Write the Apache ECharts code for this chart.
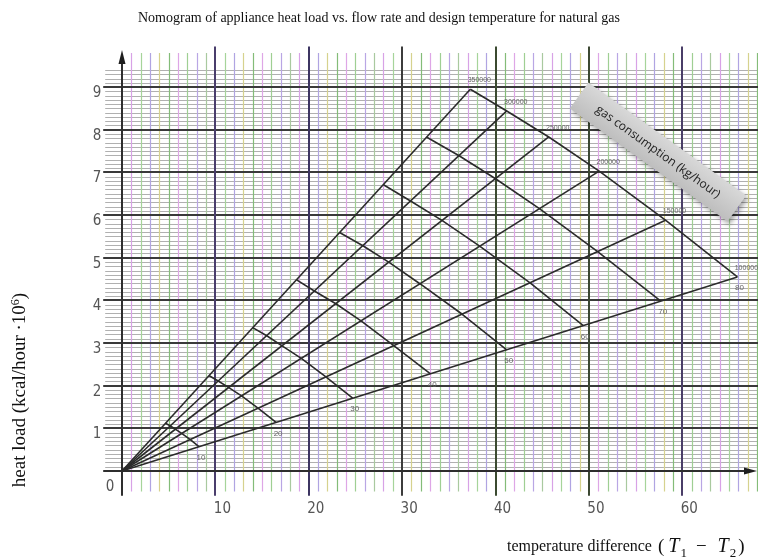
<!DOCTYPE html>
<html>
<head>
<meta charset="utf-8">
<script src="https://cdn.jsdelivr.net/npm/echarts@6/dist/echarts.min.js"></script>
<style>
  html, body { margin: 0; padding: 0; background: #ffffff; }
  #chart { width: 758px; height: 559px; }
</style>
</head>
<body>
<div id="chart"></div>
<script>
// Axis tick values: temperature difference and heat load (10^6 kcal/hour)
const xTickValues = [10, 20, 30, 40, 50, 60];
const yTickValues = [1, 2, 3, 4, 5, 6, 7, 8, 9];

// Gas consumption rays (kg/hour) and their end points on the outer curve
const flowRates = ['350000', '300000', '250000', '200000', '150000', '100000'];
const outerX = [37.3, 41.2, 45.7, 51.1, 58.2, 65.9];
const outerY = [8.95, 8.44, 7.83, 7.03, 5.88, 4.55];

// Cross curves through the six rays, steepest ray first
const crossLevels = [10, 20, 30, 40, 50, 60, 70, 80];
const crossX = [
  [4.66, 5.15, 5.71, 6.39, 7.28, 8.24],
  [9.3, 10.3, 11.4, 12.8, 14.6, 16.5],
  [14.0, 15.5, 17.1, 19.2, 21.8, 24.7],
  [18.7, 20.6, 22.9, 25.6, 29.1, 33.0],
  [23.3, 25.8, 28.6, 31.9, 36.4, 41.2],
  [28.0, 30.9, 34.3, 38.3, 43.7, 49.4],
  [32.6, 36.1, 40.0, 44.7, 50.9, 57.7],
  [37.3, 41.2, 45.7, 51.1, 58.2, 65.9]
];
const crossY = [
  [1.12, 1.06, 0.98, 0.88, 0.74, 0.57],
  [2.24, 2.11, 1.96, 1.76, 1.47, 1.14],
  [3.36, 3.17, 2.94, 2.64, 2.21, 1.71],
  [4.48, 4.22, 3.92, 3.52, 2.94, 2.28],
  [5.59, 5.28, 4.89, 4.39, 3.68, 2.84],
  [6.71, 6.33, 5.87, 5.27, 4.41, 3.41],
  [7.83, 7.39, 6.85, 6.15, 5.15, 3.98],
  [8.95, 8.44, 7.83, 7.03, 5.88, 4.55]
];

// ---- graph-paper settings ----
const X_MAX = 68, Y_MAX = 9.4;
const PAPER_LEFT = -1.8;          // horizontal rules run a little left of the axis
const V_MINOR = [-0.48, 9.8];     // colored verticals
const V_MAJOR = [-0.58, 9.95];    // dark verticals
const minorColors = ['#d8a2e6', '#a6d49a', '#b0a4e2', '#d6d28e', '#84bc78',
                     '#dea6e6', '#9fcf93', '#b9a6e4', '#a9c99f'];
const majorColors = { 10: '#4a3e6c', 20: '#3d3562', 30: '#3c3c3c', 40: '#3b4a30', 50: '#3c4832', 60: '#4a3e68' };
const INK = '#2b2b2b';

const minorH = [];
for (let i = 1; i <= 94; i++) if (i % 10 !== 0) minorH.push([i / 10]);
const minorV = [];
for (let i = 1; i <= X_MAX; i++) if (i % 10 !== 0) minorV.push([i]);

const crisp = v => Math.round(v) + 0.5;

const chart = echarts.init(document.getElementById('chart'), null, { renderer: 'canvas' });

const series = [];

// minor horizontal rules
series.push({
  type: 'custom', silent: true, clip: false, z: 1,
  data: minorH,
  renderItem(params, api) {
    const y = api.value(0);
    const a = api.coord([PAPER_LEFT, y]), b = api.coord([X_MAX, y]);
    return { type: 'line', shape: { x1: a[0], y1: crisp(a[1]), x2: b[0] + 2, y2: crisp(a[1]) },
             style: { stroke: '#b0b0b0', lineWidth: 1 } };
  }
});

// colored minor verticals
series.push({
  type: 'custom', silent: true, clip: false, z: 2,
  data: minorV,
  renderItem(params, api) {
    const x = api.value(0);
    const a = api.coord([x, V_MINOR[0]]), b = api.coord([x, V_MINOR[1]]);
    return { type: 'line', shape: { x1: crisp(a[0]), y1: a[1], x2: crisp(a[0]), y2: b[1] },
             style: { stroke: minorColors[(x - 1) % minorColors.length], lineWidth: 1.2 } };
  }
});

// major horizontal rules
series.push({
  type: 'custom', silent: true, clip: false, z: 3,
  data: yTickValues.map(v => [v]),
  renderItem(params, api) {
    const y = api.value(0);
    const a = api.coord([PAPER_LEFT, y]), b = api.coord([X_MAX, y]);
    return { type: 'line', shape: { x1: a[0] - 2, y1: Math.round(a[1]), x2: b[0] + 2, y2: Math.round(a[1]) },
             style: { stroke: '#3a3a3a', lineWidth: 2 } };
  }
});

// major verticals
series.push({
  type: 'custom', silent: true, clip: false, z: 3,
  data: xTickValues.map(v => [v]),
  renderItem(params, api) {
    const x = api.value(0);
    const a = api.coord([x, V_MAJOR[0]]), b = api.coord([x, V_MAJOR[1]]);
    return { type: 'line', shape: { x1: Math.round(a[0]), y1: a[1], x2: Math.round(a[0]), y2: b[1] },
             style: { stroke: majorColors[x], lineWidth: 2 } };
  }
});

// axes with arrow heads
series.push({
  type: 'custom', silent: true, clip: false, z: 4,
  data: [[0]],
  renderItem(params, api) {
    const o = api.coord([0, 0]);
    const top = api.coord([0, 9.82]);
    const left = api.coord([PAPER_LEFT, 0]);
    const right = api.coord([X_MAX, 0]);
    const ox = Math.round(o[0]), oy = Math.round(o[1]);
    const bottom = api.coord([0, V_MAJOR[0]]);
    return {
      type: 'group',
      children: [
        { type: 'line', shape: { x1: ox, y1: bottom[1], x2: ox, y2: top[1] + 8 }, style: { stroke: '#2e2e2e', lineWidth: 2 } },
        { type: 'polygon', shape: { points: [[ox, top[1] - 2], [ox - 3.5, top[1] + 12], [ox + 3.5, top[1] + 12]] }, style: { fill: '#1e1e1e' } },
        { type: 'line', shape: { x1: left[0] - 2, y1: oy, x2: right[0] - 8, y2: oy }, style: { stroke: '#2e2e2e', lineWidth: 2 } },
        { type: 'polygon', shape: { points: [[right[0], oy], [right[0] - 13, oy - 3.5], [right[0] - 13, oy + 3.5]] }, style: { fill: '#1e1e1e' } }
      ]
    };
  }
});

// tick labels
const tickFont = '15px "Liberation Sans Narrow", "DejaVu Sans Condensed", sans-serif';
series.push({
  type: 'custom', silent: true, clip: false, z: 5,
  data: xTickValues.map(v => [v, 0]),
  renderItem(params, api) {
    const p = api.coord([api.value(0), 0]);
    return { type: 'text', x: p[0] + 7, y: p[1] + 38,
             style: { text: String(api.value(0)), font: tickFont, fill: '#555', align: 'center', verticalAlign: 'middle' } };
  }
});
series.push({
  type: 'custom', silent: true, clip: false, z: 5,
  data: yTickValues.map(v => [0, v]),
  renderItem(params, api) {
    const p = api.coord([0, api.value(1)]);
    return { type: 'text', x: p[0] - 25, y: p[1] + 6,
             style: { text: String(api.value(1)), font: tickFont, fill: '#555', align: 'center', verticalAlign: 'middle' } };
  }
});
series.push({
  type: 'custom', silent: true, clip: false, z: 5,
  data: [[0, 0]],
  renderItem(params, api) {
    const p = api.coord([0, 0]);
    return { type: 'text', x: p[0] - 12, y: p[1] + 16,
             style: { text: '0', font: tickFont, fill: '#555', align: 'center', verticalAlign: 'middle' } };
  }
});

// gas consumption rays from the origin
flowRates.forEach((name, i) => {
  series.push({
    type: 'line', name: name, z: 6, silent: true, symbol: 'none', animation: false,
    data: [[0, 0], [outerX[i], outerY[i]]],
    lineStyle: { color: INK, width: 1.6 }
  });
});

// cross curves
crossLevels.forEach((lvl, k) => {
  series.push({
    type: 'line', name: 'level ' + lvl, z: 6, silent: true, symbol: 'none', animation: false,
    data: crossX[k].map((x, i) => [x, crossY[k][i]]),
    lineStyle: { color: INK, width: 1.6 }
  });
});

// ray labels at the outer ends
series.push({
  type: 'custom', silent: true, clip: false, z: 7,
  data: flowRates.map((n, i) => [outerX[i], outerY[i], i]),
  renderItem(params, api) {
    const p = api.coord([api.value(0), api.value(1)]);
    return { type: 'text', x: p[0] + 9, y: p[1] - 9,
             style: { text: flowRates[api.value(2)], font: '7px "Liberation Sans Narrow", sans-serif', fill: '#666', align: 'center', verticalAlign: 'middle' } };
  }
});

// level labels below the lowest ray
series.push({
  type: 'custom', silent: true, clip: false, z: 7,
  data: crossLevels.map((lvl, k) => [crossX[k][5], crossY[k][5], lvl]),
  renderItem(params, api) {
    const p = api.coord([api.value(0), api.value(1)]);
    return { type: 'text', x: p[0] + 2, y: p[1] + 11,
             style: { text: String(api.value(2)), font: '8px "Liberation Sans Narrow", sans-serif', fill: '#666', align: 'center', verticalAlign: 'middle' } };
  }
});

const serif = '"Liberation Serif", "DejaVu Serif", serif';

const option = {
  animation: false,
  backgroundColor: '#ffffff',
  title: {
    text: 'Nomogram of appliance heat load vs. flow rate and design temperature for natural gas',
    left: 'center', top: 6,
    textStyle: { fontFamily: serif, fontSize: 14, fontWeight: 'normal', color: '#111' }
  },
  grid: { left: 122, right: 1, top: 70, bottom: 88, containLabel: false },
  xAxis: { type: 'value', min: 0, max: X_MAX, show: false },
  yAxis: { type: 'value', min: 0, max: Y_MAX, show: false },
  series: series,
  graphic: [
    {
      type: 'text', x: 20, y: 390, rotation: Math.PI / 2, z: 50,
      style: {
        text: 'heat load (kcal/hour ·10{sup|6})',
        font: '19px "Liberation Serif", serif', fill: '#111',
        align: 'center', verticalAlign: 'middle',
        rich: { sup: { fontSize: 12, fontFamily: 'Liberation Serif', verticalAlign: 'top', lineHeight: 21 } }
      }
    },
    {
      type: 'text', x: 507, y: 547, z: 50,
      style: {
        text: 'temperature difference {p|(}{it|T}{sub|1}{op|−}{it|T}{sub|2}{p|)}',
        font: '16px "Liberation Serif", serif', fill: '#111',
        align: 'left', verticalAlign: 'middle',
        rich: {
          p: { fontSize: 19, fontFamily: 'Liberation Serif', padding: [0, 2, 0, 2] },
          it: { fontSize: 20, fontStyle: 'italic', fontFamily: 'Liberation Serif', padding: [0, 1, 0, 2] },
          sub: { fontSize: 13, fontFamily: 'Liberation Serif', verticalAlign: 'bottom', lineHeight: 26 },
          op: { fontSize: 19, fontFamily: 'Liberation Serif', padding: [0, 9, 0, 9] }
        }
      }
    },
    {
      type: 'group', x: 658, y: 152, rotation: -35.6 * Math.PI / 180, z: 200,
      children: [
        {
          type: 'rect', z: 200, shape: { x: -97, y: -16, width: 194, height: 32 },
          style: {
            fill: new echarts.graphic.LinearGradient(0, 0, 0, 1, [
              { offset: 0, color: '#d8d8d8' }, { offset: 1, color: '#bebebe' }
            ]),
            shadowBlur: 5, shadowOffsetX: 2, shadowOffsetY: 3, shadowColor: 'rgba(0,0,0,0.35)'
          }
        },
        {
          type: 'text', z: 201, x: 0, y: 0,
          style: { text: 'gas consumption (kg/hour)', font: '12px "Open Sans", sans-serif', fill: '#222', align: 'center', verticalAlign: 'middle' }
        }
      ]
    }
  ]
};

chart.setOption(option);
</script>
</body>
</html>
